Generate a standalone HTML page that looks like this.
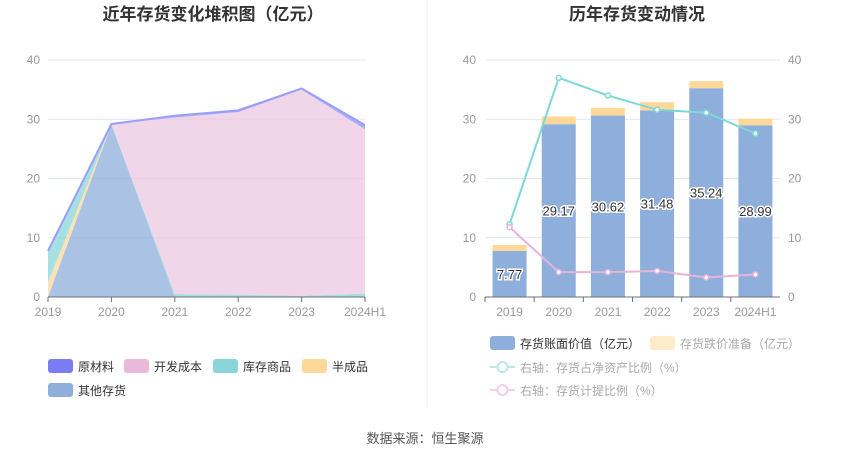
<!DOCTYPE html>
<html><head><meta charset="utf-8">
<style>
body{margin:0;background:#fff;width:850px;height:459px;overflow:hidden;font-family:"Liberation Sans","Noto Sans CJK SC",sans-serif;}
svg text{font-family:"Liberation Sans","Noto Sans CJK SC",sans-serif;}
</style></head>
<body>
<svg id="c" width="850" height="459">
<text x="213" y="20" text-anchor="middle" font-size="17" font-weight="bold" fill="#333">近年存货变化堆积图（亿元）</text>
<text x="637" y="20" text-anchor="middle" font-size="17" font-weight="bold" fill="#333">历年存货变动情况</text>
<line x1="427" y1="0" x2="427" y2="408" stroke="#eee"/>
<text x="425" y="443" text-anchor="middle" font-size="13" fill="#555">数据来源：恒生聚源</text>
<g id="left"></g>
<g id="right"></g>
<g id="legends"></g>
</svg>
<script>
const cats=["2019","2020","2021","2022","2023","2024H1"];
const other=[0,29.1,0,0,0,0];
const semi=[2.5,0,0,0,0,0];
const stock=[5.3,0.1,0.5,0.4,0.2,0.6];
const dev=[0,0,29.8,30.8,34.8,27.7];
const raw=[0,0,0.3,0.3,0.2,0.7];
const yTicks=[0,10,20,30,40];
const bookVal=[7.77,29.17,30.62,31.48,35.24,28.99];
const impair=[1.0,1.3,1.3,1.4,1.2,1.1];
const ratioNet=[12.3,37.0,34.0,31.6,31.1,27.6];
const ratioProv=[11.8,4.2,4.2,4.4,3.3,3.8];
const NS="http://www.w3.org/2000/svg";
function mk(p,t,a){const e=document.createElementNS(NS,t);for(const k in a)e.setAttribute(k,a[k]);p.appendChild(e);return e;}
// LEFT
const L=document.getElementById('left');
const lx0=48,lx1=365,ly0=297,ly1=60;
const lx=i=>lx0+i*(lx1-lx0)/(cats.length-1);
const ly=v=>ly0-(v/40)*(ly0-ly1);
yTicks.forEach(t=>{
 const g=mk(L,'line',{x1:lx0,x2:lx1,y1:ly(t),y2:ly(t),stroke:'#e0e6f1'});
 
 
 const tx=mk(L,'text',{x:40,y:ly(t)+4,'text-anchor':'end','font-size':12,fill:'#999'});tx.textContent=t;
 
 
});
const series=[[other,'#8eaedb','other-inventory'],[semi,'#fdd899','semi-finished'],[stock,'#88d6d9','finished-goods'],[dev,'#ecc8e2','development-cost'],[raw,'#8f93f7','raw-materials']];
let base=cats.map(()=>0);
series.forEach(([arr,col,nm])=>{
 const top=base.map((b,i)=>b+arr[i]);
 let d='M'+top.map((v,i)=>lx(i)+','+ly(v)).join('L');
 for(let i=cats.length-1;i>=0;i--)d+='L'+lx(i)+','+ly(base[i]);
 const p=mk(L,'path',{d:d+'Z',fill:col,opacity:0.75});
 
 
 base=top;
});
mk(L,'polyline',{points:base.map((v,i)=>lx(i)+','+ly(v)).join(' '),fill:'none',stroke:'#9a9ef8','stroke-width':2});
mk(L,'line',{x1:lx0,x2:lx1,y1:ly0,y2:ly0,stroke:'#6e7079'});
cats.forEach((c,i)=>{
 mk(L,'line',{x1:lx(i),x2:lx(i),y1:ly0,y2:ly0+5,stroke:'#6e7079'});
 const t=mk(L,'text',{x:lx(i),y:316,'text-anchor':'middle','font-size':12,fill:'#999'});t.textContent=c;
 
 
});
// RIGHT
const R=document.getElementById('right');
const rx0=485,rx1=780,ry0=297,ry1=60;
const bw=(rx1-rx0)/cats.length;
const rx=i=>rx0+bw*(i+0.5);
const ry=v=>ry0-(v/40)*(ry0-ry1);
yTicks.forEach(t=>{
 mk(R,'line',{x1:rx0,x2:rx1,y1:ry(t),y2:ry(t),stroke:'#e0e6f1'});
 const a=mk(R,'text',{x:476,y:ry(t)+4,'text-anchor':'end','font-size':12,fill:'#999'});a.textContent=t;
 
 
 const b=mk(R,'text',{x:788,y:ry(t)+4,'font-size':12,fill:'#999'});b.textContent=t;
 
 
});
cats.forEach((c,i)=>{
 const w=34,x=rx(i)-w/2;
 const b=mk(R,'rect',{x:x,y:ry(bookVal[i]),width:w,height:ry(0)-ry(bookVal[i]),fill:'#8eaedb'});
 
 
 const b2=mk(R,'rect',{x:x,y:ry(bookVal[i]+impair[i]),width:w,height:ry(bookVal[i])-ry(bookVal[i]+impair[i]),fill:'#fdd899'});
 
 
 const t=mk(R,'text',{x:rx(i),y:ry(bookVal[i]/2)+5,'text-anchor':'middle','font-size':13,fill:'#333',stroke:'#fff','stroke-width':3,'paint-order':'stroke'});t.textContent=bookVal[i].toFixed(2);
 
 
 mk(R,'line',{x1:rx0+bw*i,x2:rx0+bw*i,y1:ry0,y2:ry0+5,stroke:'#6e7079'});
 const xt=mk(R,'text',{x:rx(i),y:316,'text-anchor':'middle','font-size':12,fill:'#999'});xt.textContent=c;
 
 
});
mk(R,'line',{x1:rx0,x2:rx1,y1:ry0,y2:ry0,stroke:'#6e7079'});
[[ratioNet,'#7fd8d8','line-net-asset-ratio'],[ratioProv,'#e6b3d9','line-provision-ratio']].forEach(([arr,col,nm])=>{
 const pl=mk(R,'polyline',{points:arr.map((v,i)=>rx(i)+','+ry(v)).join(' '),fill:'none',stroke:col,'stroke-width':2});
 
 
 arr.forEach((v,i)=>{const c=mk(R,'circle',{cx:rx(i),cy:ry(v),r:2.5,fill:'#fff',stroke:col,'stroke-width':1.5});
  
  });
});
// LEGENDS
const G=document.getElementById('legends');
function box(x,y,col,label,tc,nm){
 const r=mk(G,'rect',{x:x,y:y-7,width:25,height:14,rx:3,fill:col});
 const t=mk(G,'text',{x:x+30,y:y+5,'font-size':12,fill:tc});t.textContent=label;
 
 
 
 
}
box(48,366,'#7a7cf5','原材料','#333','legend-raw');
box(124,366,'#e9b9da','开发成本','#333','legend-dev');
box(213,366,'#88d6d9','库存商品','#333','legend-stock');
box(302,366,'#fdd899','半成品','#333','legend-semi');
box(48,390,'#8eaedb','其他存货','#333','legend-other');
box(490,343,'#8eaedb','存货账面价值（亿元）','#333','legend-book');
box(650,343,'#feebc8','存货跌价准备（亿元）','#aaa','legend-impair');
function lineLeg(y,col,label,nm){
 mk(G,'line',{x1:490,x2:515,y1:y,y2:y,stroke:col,'stroke-width':2});
 mk(G,'circle',{cx:502.5,cy:y,r:5,fill:'#fff',stroke:col,'stroke-width':2});
 const t=mk(G,'text',{x:520,y:y+5,'font-size':12,fill:'#aaa'});t.textContent=label;
 
 
}
lineLeg(367,'#b8e8ea','右轴：存货占净资产比例（%）','legend-net-ratio');
lineLeg(390,'#f3cfe8','右轴：存货计提比例（%）','legend-prov-ratio');
</script>
</body></html>
